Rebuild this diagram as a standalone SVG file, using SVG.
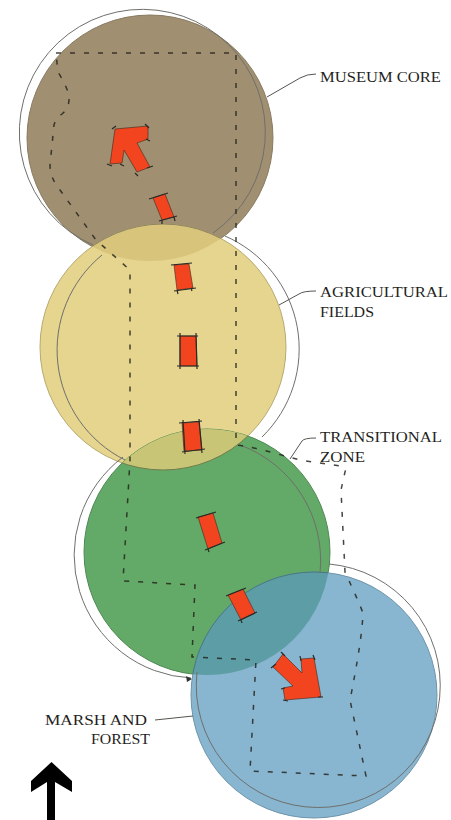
<svg xmlns="http://www.w3.org/2000/svg" width="451" height="820" viewBox="0 0 451 820">
<style>
.fill{stroke-width:1}
.out{fill:none;stroke:#6f6f6c;stroke-width:1}
.lead{fill:none;stroke:#55554f;stroke-width:1}
.bound{fill:none;stroke:#26261f;stroke-width:1.5;stroke-dasharray:5 9;stroke-opacity:.85}
.red{fill:#f2451f;stroke:#3a2a20;stroke-width:.6}
.tick{fill:none;stroke:#2a2a26;stroke-width:1.2}
text{font-family:"Liberation Serif","Times New Roman",serif;font-size:15.5px;fill:#1f1f1d}
</style>
<defs>
<clipPath id="cB"><circle cx="150" cy="138" r="123"/></clipPath>
<clipPath id="cG"><circle cx="207" cy="552" r="123"/></clipPath>
</defs>
<rect width="451" height="820" fill="#fff"/>
<g id="museum-core">
<circle class="fill" cx="150" cy="138" r="123" fill="#a08f70" stroke="#8a7c62"/>
</g>
<g id="agricultural-fields">
<circle class="fill" cx="163" cy="347" r="123" fill="#e6d58f" stroke="#b8a970"/>
<circle cx="163" cy="347" r="123" fill="#d8c47b" stroke="#8f8660" clip-path="url(#cB)"/>
</g>
<g id="transitional-zone">
<circle class="fill" cx="207" cy="552" r="123" fill="#63a967" stroke="#4f8a55"/>
</g>
<g id="transitional-overlap">
<circle cx="163" cy="347" r="123" fill="#c8c676" stroke="#6f7c4c" clip-path="url(#cG)"/>
</g>
<g id="marsh-and-forest">
<circle class="fill" cx="314" cy="695" r="123" fill="#88b5cf" stroke="#6f95ab"/>
<circle cx="314" cy="695" r="123" fill="#5d9ea6" stroke="#47797f" clip-path="url(#cG)"/>
</g>
<g id="outlines">
<path class="out" d="M93,245 A123,123 0 1 1 213,233"/>
<path class="out" d="M102,255 A123,123 0 0 0 125,460"/>
<path class="out" d="M262,437 A123,123 0 0 0 225,236"/>
<path class="out" d="M123,457 A123,123 0 0 0 191,678"/>
<path class="out" d="M240,445 A123,123 0 0 1 320,573"/>
<path class="out" d="M197,672 A122,122 0 1 0 329,564"/>
<path d="M186,676 L192,679 L187,682 Z" fill="#333"/>
</g>
<g id="connectors">
<path class="bound" d="M56,53 L236,53 L236,445 C260,448 280,455 300,460 L340,466 Q347,467 345,472 L341,490 L345,572 Q358,600 363,613 Q362,640 350,700 L366,776 L250,771 L256,660 L192,657 L195,585 L123,581 L130,460 L130,270 L96,240 L60,190 Q50,178 50,165 L54,125 Q56,118 62,114 Q70,108 69,95 Q66,85 58,72 Z"/>
<path class="lead" d="M267,97 L300,78 Q307,74 316,74"/>
<path class="lead" d="M279,305 L299,294 Q303,291 316,291"/>
<path class="lead" d="M290,459 L302,441 Q304,438 316,438"/>
<path class="lead" d="M155,720 L193,716"/>
</g>
<g id="route">
<polygon class="red" points="115,129 148,126 148,139 137,143 150,167 137,172 124,150 122,163 110,164"/>
<path class="tick" d="M112,129 L116,126 M145,124 L149,128 M146,139 L150,141 M135,173 L138,176 M147,168 L153,166 M120,164 L124,166 M107,164 L112,166"/>
<polygon class="red" points="153,198 165,194 174,217 162,220"/>
<path class="tick" d="M149,199 L168,193 M159,221 L177,216 M162,220 L162,224 M174,217 L175,221"/>
<polygon class="red" points="174,265 189,264 193,288 177,290"/>
<path class="tick" d="M171,265 L192,263 M174,291 L196,288 M177,290 L178,294 M191,288 L192,291"/>
<polygon class="red" points="180,336 196,336 197,366 180,366"/>
<path class="tick" d="M177,336 L198,336 M177,366 L199,366 M180,333 L180,369 M196,333 L197,369"/>
<polygon class="red" points="182,423 199,422 202,450 184,451"/>
<path class="tick" d="M179,423 L202,421 M182,452 L205,449 M183,420 L185,454 M199,419 L202,453"/>
<polygon class="red" points="198,517 213,513 222,543 208,549"/>
<path class="tick" d="M196,518 L216,512 M205,550 L225,542 M208,549 L209,552"/>
<polygon class="red" points="228,595 243,589 255,613 241,620"/>
<path class="tick" d="M226,596 L246,588 M238,621 L257,612 M241,620 L242,623"/>
<polygon class="red" points="283,654 302,673 301,659 314,658 321,697 285,700 283,688 293,686 273,667"/>
<path class="tick" d="M271,668 L276,664 M281,652 L285,656 M300,656 L301,661 M313,655 L315,660 M283,700 L288,701 M281,689 L285,688 M318,697 L323,697"/>
</g>
<g id="labels">
<text x="320" y="82" textLength="121" lengthAdjust="spacingAndGlyphs">MUSEUM CORE</text>
<text x="320" y="297" textLength="128" lengthAdjust="spacingAndGlyphs">AGRICULTURAL</text>
<text x="320" y="317" textLength="54" lengthAdjust="spacingAndGlyphs">FIELDS</text>
<text x="320" y="442" textLength="122" lengthAdjust="spacingAndGlyphs">TRANSITIONAL</text>
<text x="320" y="462" textLength="45" lengthAdjust="spacingAndGlyphs">ZONE</text>
<text x="45" y="725" textLength="102" lengthAdjust="spacingAndGlyphs">MARSH AND</text>
<text x="91" y="744" textLength="59" lengthAdjust="spacingAndGlyphs">FOREST</text>
</g>
<g id="north-arrow">
<polygon points="51.5,762 72,781 72,792 55,782 55,820 47,820 47,782 31,792 31,781" fill="#000"/>
</g>
</svg>
